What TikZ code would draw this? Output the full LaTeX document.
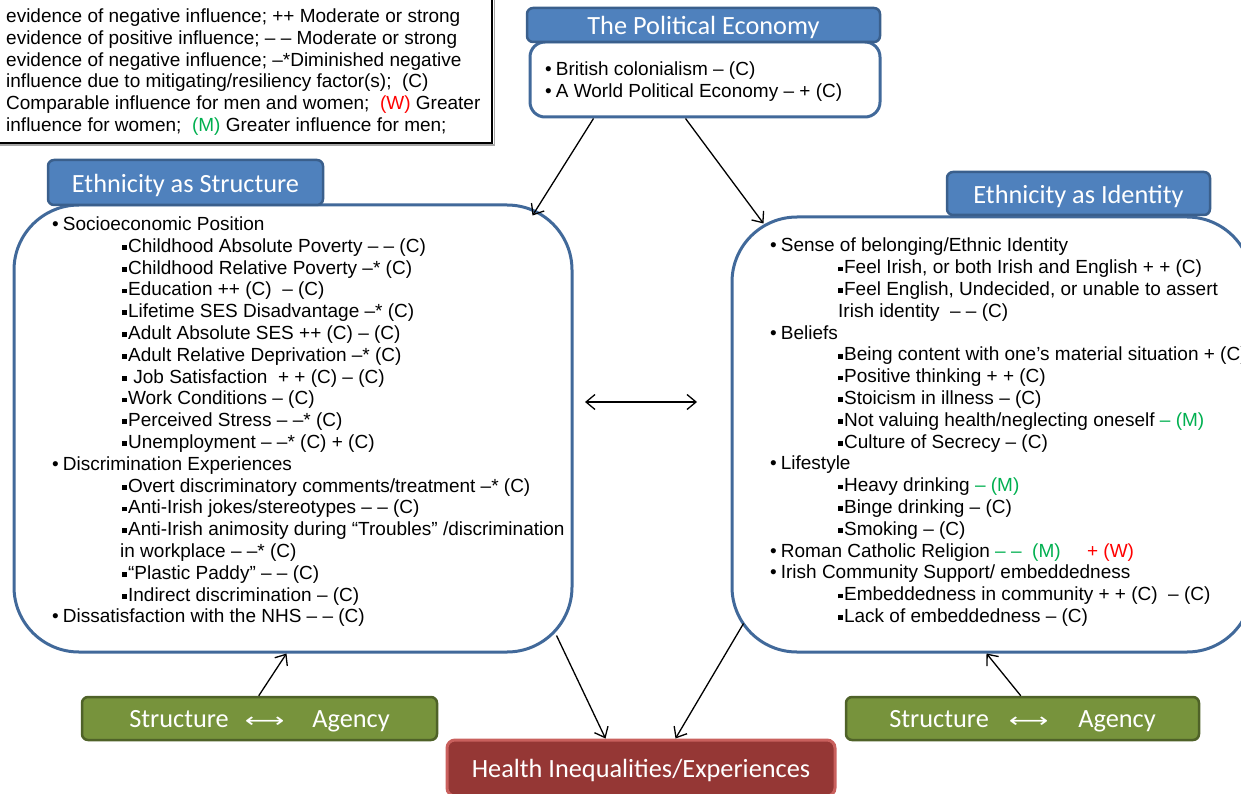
\documentclass[tikz,border=0pt]{standalone}
\usepackage{fontspec}
\setmainfont{Liberation Sans}
\newfontfamily\calib{Carlito}
\newfontfamily\dejavu{DejaVu Sans}
\usetikzlibrary{arrows.meta,calc}
\definecolor{hdrblue}{HTML}{4F81BD}
\definecolor{hdredge}{HTML}{3A5F8C}
\definecolor{boxedge}{HTML}{41699A}
\definecolor{grn}{HTML}{77933C}
\definecolor{grnedge}{HTML}{4F6228}
\definecolor{hred}{HTML}{953735}
\definecolor{hrededge}{HTML}{C9605D}
\definecolor{mgreen}{HTML}{00B050}
\definecolor{wred}{HTML}{FF0000}
\newcommand{\sqb}{\rule[0.13em]{0.25em}{0.25em}\kern0.06em}
\newcommand{\bul}{\textbullet\kern4pt}
\newcommand{\ind}{\hspace*{70pt}}
\newcommand{\indr}{\hspace*{68pt}}
\newcommand{\M}[1]{\textcolor{mgreen}{#1}}
\newcommand{\W}[1]{\textcolor{wred}{#1}}
\newcommand{\lowr}[1]{\raisebox{-2.5pt}[\height][\depth]{#1}}
\newcommand{\twoway}{{\dejavu\fontsize{20}{24}\selectfont\scalebox{1.38}[1]{⟷}}}
\begin{document}
\begin{tikzpicture}[x=1pt,y=-1pt,
  hdr/.style={draw=hdredge, line width=2.5pt, fill=hdrblue, rounded corners=6pt,
    text=white, inner sep=0pt, font=\calib\fontsize{26.3}{30}\selectfont},
  bodybox/.style={draw=boxedge, line width=3pt, fill=white, inner sep=0pt},
  greenbox/.style={draw=grnedge, line width=2.5pt, fill=grn, rounded corners=6pt,
    text=white, inner sep=0pt, font=\calib\fontsize{26.3}{30}\selectfont},
  bodytext/.style={anchor=north west, inner sep=0pt, align=left,
    font=\fontsize{19}{21.8}\selectfont},
  arr/.style={line width=1.3pt, -{Straight Barb[length=9pt,width=15pt,line width=1.3pt]}},
  darr/.style={line width=1.3pt, {Straight Barb[length=9pt,width=15pt,line width=1.3pt]}-{Straight Barb[length=9pt,width=15pt,line width=1.3pt]}}
]
\useasboundingbox (0,0) rectangle (1241,794);

% key to the influence markers
\node[draw=black!35, line width=1.5pt, minimum width=498pt, minimum height=163pt, inner sep=0pt]
  (keyshadow) at (245.5,63.5) {};
\node[draw=black, fill=white, line width=1.5pt, minimum width=498pt, minimum height=163pt, inner sep=0pt]
  (keybox) at (243,61.5) {};
\node[bodytext] (keytext) at (6,8.5) {%
  evidence of negative influence; ++ Moderate or strong\\
  evidence of positive influence; – – Moderate or strong\\
  evidence of negative influence; –*Diminished negative\\
  influence due to mitigating/resiliency factor(s);\ \ (C)\\
  Comparable influence for men and women;\ \ \W{(W)} Greater\\
  influence for women;\ \ \M{(M)} Greater influence for men;};

% the political economy
\node[bodybox, rounded corners=15pt, minimum width=350pt, minimum height=75pt] (peb) at (705,79.5) {};
\node[hdr, minimum width=353pt, minimum height=34pt] (peh) at (703.5,25) {\lowr{The Political Economy}};
\node[bodytext] (petext) at (545,62) {%
  \bul British colonialism – (C)\\
  \bul A World Political Economy – + (C)};

% ethnicity as structure
\node[bodybox, rounded corners=65pt, minimum width=558pt, minimum height=447pt] (lb) at (293,428.5) {};
\node[hdr, minimum width=275pt, minimum height=45pt] (lh) at (185.5,182.5) {\lowr{Ethnicity as Structure}};
\node[bodytext] (ltext) at (52,216.5) {%
  \bul Socioeconomic Position\\
  \ind\sqb Childhood Absolute Poverty – – (C)\\
  \ind\sqb Childhood Relative Poverty –* (C)\\
  \ind\sqb Education ++ (C)\ \ – (C)\\
  \ind\sqb Lifetime SES Disadvantage –* (C)\\
  \ind\sqb Adult Absolute SES ++ (C) – (C)\\
  \ind\sqb Adult Relative Deprivation –* (C)\\
  \ind\sqb\ Job Satisfaction\ \ + + (C) – (C)\\
  \ind\sqb Work Conditions – (C)\\
  \ind\sqb Perceived Stress – –* (C)\\
  \ind\sqb Unemployment – –* (C) + (C)\\
  \bul Discrimination Experiences\\
  \ind\sqb Overt discriminatory comments/treatment –* (C)\\
  \ind\sqb Anti-Irish jokes/stereotypes – – (C)\\
  \ind\sqb Anti-Irish animosity during “Troubles” /discrimination\\
  \hspace*{68pt}in workplace – –* (C)\\
  \ind\sqb “Plastic Paddy” – – (C)\\
  \ind\sqb Indirect discrimination – (C)\\
  \bul Dissatisfaction with the NHS – – (C)};

% ethnicity as identity
\node[bodybox, rounded corners=65pt, minimum width=520pt, minimum height=435pt] (rb) at (992,434.5) {};
\node[hdr, minimum width=263pt, minimum height=43pt] (rh) at (1078.5,193.5) {\lowr{Ethnicity as Identity}};
\node[bodytext] (rtext) at (770,238) {%
  \bul Sense of belonging/Ethnic Identity\\
  \indr\sqb Feel Irish, or both Irish and English + + (C)\\
  \indr\sqb Feel English, Undecided, or unable to assert\\
  \indr Irish identity\ \ – – (C)\\
  \bul Beliefs\\
  \indr\sqb Being content with one’s material situation + (C)\\
  \indr\sqb Positive thinking + + (C)\\
  \indr\sqb Stoicism in illness – (C)\\
  \indr\sqb Not valuing health/neglecting oneself \M{– (M)}\\
  \indr\sqb Culture of Secrecy – (C)\\
  \bul Lifestyle\\
  \indr\sqb Heavy drinking \M{– (M)}\\
  \indr\sqb Binge drinking – (C)\\
  \indr\sqb Smoking – (C)\\
  \bul Roman Catholic Religion \M{– –\ \ (M)}\ \ \ \ \ \W{+ (W)}\\
  \bul Irish Community Support/ embeddedness\\
  \indr\sqb Embeddedness in community + + (C)\ \ – (C)\\
  \indr\sqb Lack of embeddedness – (C)};

% outcome and structure/agency boxes
\node[draw=hrededge, line width=3pt, fill=hred, rounded corners=8pt, text=white, inner sep=0pt,
  minimum width=388pt, minimum height=56pt, font=\calib\fontsize{26.3}{30}\selectfont]
  (health) at (641,768) {\lowr{Health Inequalities/Experiences}};
\node[greenbox, minimum width=355pt, minimum height=43pt] (gl) at (259.5,718.5)
  {\lowr{Structure\hspace{16pt}\twoway\hspace{28pt}Agency}};
\node[greenbox, minimum width=353pt, minimum height=43pt] (gr) at (1022.5,718.5)
  {\lowr{Structure\hspace{20pt}\twoway\hspace{30pt}Agency}};

% connectors
\coordinate (lbin) at ($(lb.north east)+(-41,12)$);
\coordinate (rbin) at ($(rb.north west)+(33,8)$);
\coordinate (lbout) at ($(lb.south east)+(-17,-18)$);
\coordinate (rbout) at ($(rb.south west)+(13,-30)$);
\coordinate (mid1) at (585,402);
\coordinate (mid2) at (697,402);
\draw[arr] ($(peb.south west)+(65,0)$) -- (lbin);
\draw[arr] ($(peb.south west)+(157,0)$) -- (rbin);
\draw[arr] (lbout) -- ($(health.north west)+(160,0)$);
\draw[arr] (rbout) -- ($(health.north west)+(230,0)$);
\draw[arr] ($(gl.north west)+(178,0)$) -- ($(lb.south west)+(274,0)$);
\draw[arr] ($(gr.north west)+(176,0)$) -- ($(rb.south west)+(256,0)$);
\draw[darr] (mid1) -- (mid2);
\end{tikzpicture}
\end{document}
